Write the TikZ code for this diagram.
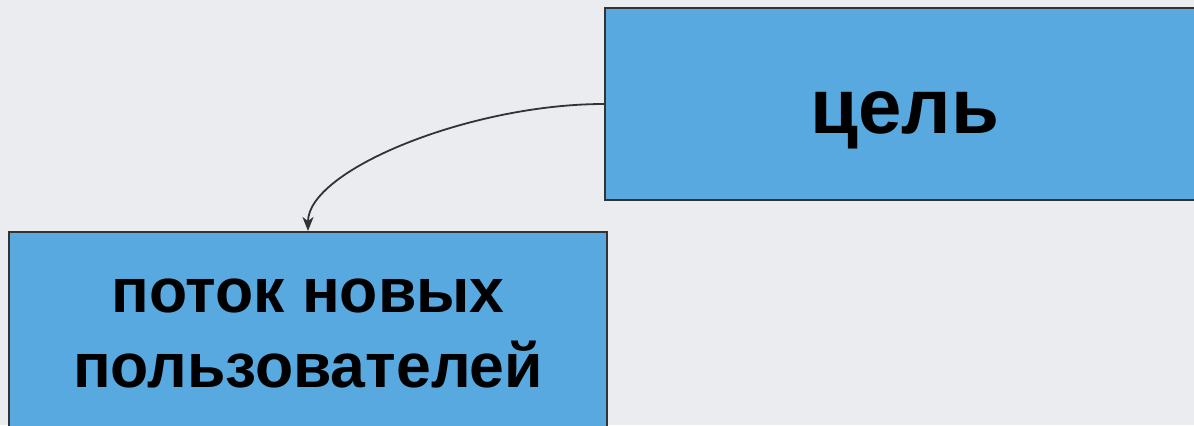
\documentclass[tikz,border=0pt]{standalone}
\usepackage{fontspec}
\setmainfont{Liberation Sans}
\usetikzlibrary{arrows.meta}
\definecolor{bg}{HTML}{EBECF0}
\definecolor{boxfill}{HTML}{58A9DF}
\definecolor{edge}{HTML}{333333}
\tikzset{
  box/.style={draw=edge, line width=2bp, fill=boxfill, inner sep=0pt, align=center,
    font=\fontsize{62.5bp}{75bp}\selectfont\bfseries},
  link/.style={draw=edge, line width=1.8bp, -{Stealth[length=14bp,width=11bp,inset=4bp]}}
}
\begin{document}
\begin{tikzpicture}[x=1bp,y=-1bp]
\useasboundingbox (0,0) rectangle (1194,425);
\fill[bg] (0,0) rectangle (1194,425);
\node[box, minimum width=600bp, minimum height=192bp, text height=58bp, text depth=0bp,
  font=\fontsize{78bp}{90bp}\selectfont\bfseries] (goal) at (905,104) {цель};
\node[box, minimum width=598bp, minimum height=202bp] (flow) at (308,333) {поток новых\\пользователей};
\draw[link] (goal.west) .. controls (470,104) and (308,170) .. (flow.north);
\end{tikzpicture}
\end{document}
